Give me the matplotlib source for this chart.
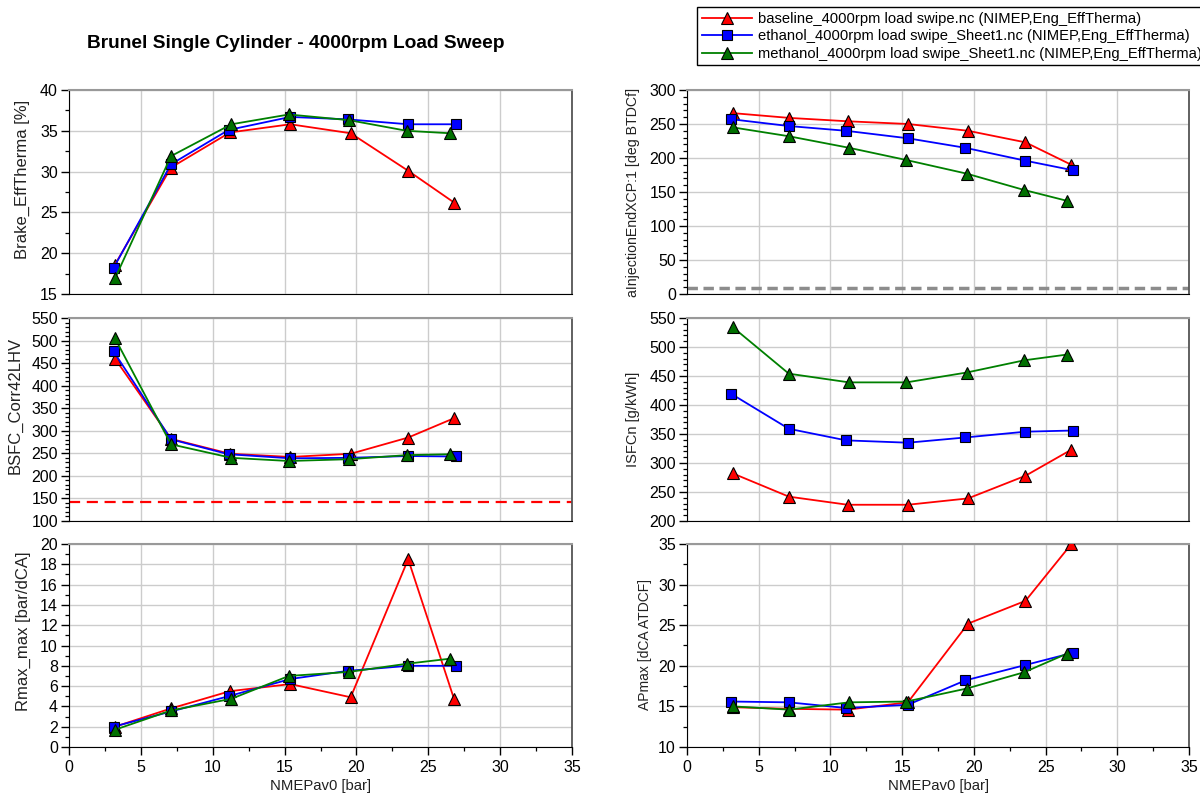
import matplotlib
matplotlib.use("Agg")
import matplotlib.pyplot as plt
from matplotlib.ticker import MultipleLocator

plt.rcParams["font.family"] = ["Liberation Sans", "DejaVu Sans"]

# NMEP load points per fuel [bar]
nmep_base = [3.2, 7.1, 11.2, 15.4, 19.6, 23.6, 26.8]
nmep_eth = [3.1, 7.1, 11.1, 15.4, 19.4, 23.6, 26.9]
nmep_meth = [3.2, 7.1, 11.3, 15.3, 19.5, 23.5, 26.5]

# Brake thermal efficiency [%]
eff_base = [18.6, 30.5, 34.8, 35.8, 34.7, 30.1, 26.2]
eff_eth = [18.2, 30.9, 35.1, 36.7, 36.4, 35.8, 35.8]
eff_meth = [16.9, 31.9, 35.8, 37.0, 36.3, 35.0, 34.7]

# End of injection [deg BTDCf]
inj_base = [266, 259, 254, 250, 240, 223, 190]
inj_eth = [257, 247, 240, 229, 215, 196, 182]
inj_meth = [245, 232, 215, 197, 177, 153, 137]
inj_ref = 9

# Corrected BSFC
bsfc_base = [460, 282, 249, 242, 249, 285, 328]
bsfc_eth = [476, 281, 248, 239, 240, 244, 243]
bsfc_meth = [505, 270, 240, 233, 237, 246, 248]
bsfc_ref = 142

# Net indicated specific fuel consumption [g/kWh]
isfc_base = [282, 242, 228, 228, 239, 278, 323]
isfc_eth = [419, 359, 339, 335, 344, 354, 356]
isfc_meth = [534, 454, 439, 439, 456, 477, 487]

# Max pressure rise rate [bar/dCA]
rmax_base = [2.0, 3.8, 5.5, 6.2, 4.9, 18.5, 4.7]
rmax_eth = [2.0, 3.5, 5.0, 6.7, 7.5, 8.0, 8.0]
rmax_meth = [1.7, 3.6, 4.75, 7.0, 7.4, 8.2, 8.7]

# Location of peak pressure [dCA ATDCF]
apmax_base = [14.9, 14.7, 14.6, 15.5, 25.2, 28.0, 35.0]
apmax_eth = [15.6, 15.5, 14.8, 15.2, 18.2, 20.1, 21.6]
apmax_meth = [15.0, 14.6, 15.5, 15.6, 17.2, 19.2, 21.5]

series_labels = [
    "baseline_4000rpm load swipe.nc (NIMEP,Eng_EffTherma)",
    "ethanol_4000rpm load swipe_Sheet1.nc (NIMEP,Eng_EffTherma)",
    "methanol_4000rpm load swipe_Sheet1.nc (NIMEP,Eng_EffTherma)",
]
line_colors = ["#ff0000", "#0000ff", "#008000"]
face_colors = ["#ff0000", "#0000ff", "#007000"]
markers = ["^", "s", "^"]
msizes = [8.5, 7.5, 8.5]
xs = [nmep_base, nmep_eth, nmep_meth]

fig = plt.figure(figsize=(12, 7.98), dpi=100)

W = 1200.0
H = 798.0


def make_axes(left_px, right_px, top_px, bottom_px):
    return fig.add_axes([left_px / W, 1 - bottom_px / H,
                         (right_px - left_px) / W, (bottom_px - top_px) / H])


rows = [(90, 294), (318, 521), (544, 747)]
cols = [(69, 572), (687, 1189)]

panels = [
    # (row, col, data, ylim, major, minor, ylabel, label size, label_x, label_y)
    (0, 0, (eff_base, eff_eth, eff_meth), (15, 40), 5, 2.5,
     "Brake_EffTherma [%]", 12, -0.078, 0.56),
    (0, 1, (inj_base, inj_eth, inj_meth), (0, 300), 50, 10,
     "aInjectionEndXCP:1 [deg BTDCf]", 10.2, -0.094, 0.50),
    (1, 0, (bsfc_base, bsfc_eth, bsfc_meth), (100, 550), 50, 10,
     "BSFC_Corr42LHV", 12, -0.092, 0.57),
    (1, 1, (isfc_base, isfc_eth, isfc_meth), (200, 550), 50, 10,
     "ISFCn [g/kWh]", 10.5, -0.094, 0.50),
    (2, 0, (rmax_base, rmax_eth, rmax_meth), (0, 20), 2, 1,
     "Rmax_max [bar/dCA]", 12, -0.076, 0.57),
    (2, 1, (apmax_base, apmax_eth, apmax_meth), (10, 35), 5, 2.5,
     "APmax [dCA ATDCF]", 10, -0.070, 0.507),
]

axes = {}
handles = []
for (r, c, data, ylim, major, minor, ylabel, lsize, lx, ly) in panels:
    top, bot = rows[r]
    lft, rgt = cols[c]
    ax = make_axes(lft, rgt, top, bot)
    axes[(r, c)] = ax
    ax.set_xlim(0, 35)
    ax.set_ylim(*ylim)
    ax.xaxis.set_major_locator(MultipleLocator(5))
    ax.xaxis.set_minor_locator(MultipleLocator(2.5))
    ax.yaxis.set_major_locator(MultipleLocator(major))
    ax.yaxis.set_minor_locator(MultipleLocator(minor))
    ax.grid(True, which="major", color="#cccccc", linewidth=1.0)
    ax.set_axisbelow(True)
    ax.tick_params(axis="both", which="major", direction="out", length=6,
                   width=1.0, labelsize=11.5, colors="black")
    ax.tick_params(axis="both", which="minor", direction="out", length=3,
                   width=0.9)
    ax.tick_params(axis="y", pad=2)
    if r < 2:
        ax.tick_params(axis="x", which="both", length=0, labelbottom=False)
    else:
        ax.set_xlabel("NMEPav0 [bar]", fontsize=10.7, color="#222222",
                      labelpad=3)
    ax.spines["left"].set_color("black")
    ax.spines["bottom"].set_color("black")
    ax.spines["top"].set_color("#999999")
    ax.spines["top"].set_linewidth(1.5)
    ax.spines["right"].set_color("#555555")
    ax.spines["right"].set_linewidth(1.3)
    ax.set_ylabel(ylabel, fontsize=lsize, color="#222222")
    ax.yaxis.set_label_coords(lx, ly)

    hs = []
    for i in range(3):
        h, = ax.plot(xs[i], data[i], color=line_colors[i], linewidth=1.3,
                     marker=markers[i], markersize=msizes[i],
                     markerfacecolor=face_colors[i], markeredgecolor="black",
                     markeredgewidth=0.8, label=series_labels[i], zorder=3 + i)
        hs.append(h)
    if not handles:
        handles = hs

axes[(0, 1)].axhline(inj_ref, color="#8c8c8c", linewidth=2.5,
                     linestyle=(0, (3, 1.6)), zorder=2)
axes[(1, 0)].axhline(bsfc_ref, color="#ff0000", linewidth=1.6,
                     linestyle=(0, (5, 3)), zorder=2)

fig.text(296 / W, 1 - 44 / H, "Brunel Single Cylinder - 4000rpm Load Sweep",
         ha="center", va="center", fontsize=13.8, fontweight="bold")

leg = fig.legend(handles=handles, labels=series_labels, loc="upper left",
                 bbox_to_anchor=(697 / W, 1 - 7 / H), fontsize=10.6,
                 frameon=True, fancybox=False, framealpha=1.0,
                 edgecolor="black", handlelength=3.4, handletextpad=0.4,
                 labelspacing=0.24, borderpad=0.32, borderaxespad=0.0)
leg.get_frame().set_linewidth(1.0)

fig.savefig("out.png", dpi=100)
